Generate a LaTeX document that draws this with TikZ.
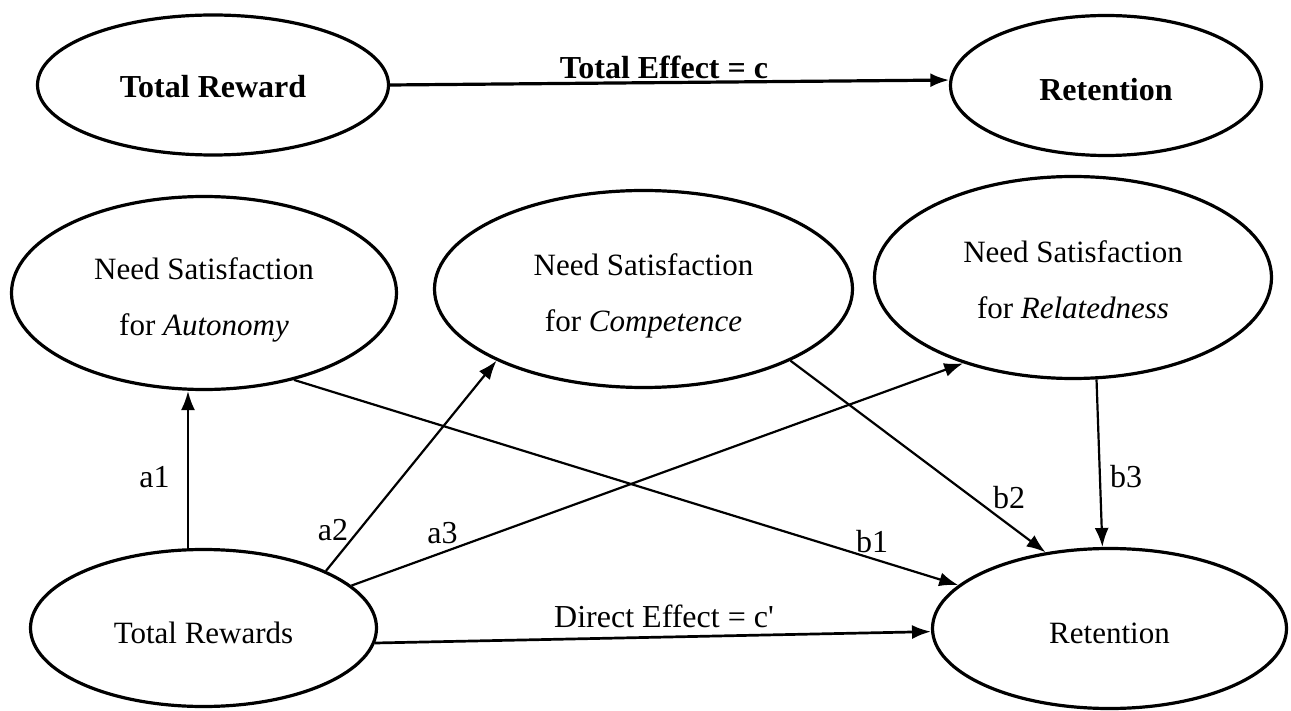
\documentclass[tikz,border=0pt]{standalone}
\usepackage{fontspec}
\setmainfont{Liberation Serif}
\newfontfamily\lblfont{Liberation Serif}[Ligatures=TeXOff]
\usetikzlibrary{shapes.geometric,arrows.meta}
\begin{document}
\begin{tikzpicture}[x=1pt,y=-1pt,
  ell/.style={draw, ellipse, line width=3.2pt, inner sep=0pt, font=\fontsize{31}{56}\selectfont},
  boldell/.style={ell, font=\fontsize{32}{38}\selectfont\bfseries},
  lbl/.style={font=\lblfont\fontsize{32}{36}\selectfont, inner sep=0pt, anchor=base},
  arr/.style={-{Latex[length=19pt,width=14pt]}, line width=2.2pt},
  thickarr/.style={arr, line width=3.2pt},
  midarr/.style={arr, line width=2.7pt}]
\useasboundingbox (0,0) rectangle (1291,711);
\fill[white] (0,0) rectangle (1291,711);

% top model
\node[boldell, minimum width=351pt, minimum height=140pt, text height=26pt, text depth=0pt] (tr) at (213,85) {Total Reward};
\node[boldell, minimum width=311pt, minimum height=140pt, text height=30pt, text depth=0pt] (rt) at (1106,85.5) {Retention};

% mediators
\node[ell, minimum width=385pt, minimum height=193pt] (aut) at (204,293)
  {\raisebox{-3pt}[\height][\depth]{\begin{tabular}{@{}c@{}}Need Satisfaction\\for \textit{Autonomy}\end{tabular}}};
\node[ell, minimum width=418pt, minimum height=197pt] (comp) at (643.5,289)
  {\raisebox{-3pt}[\height][\depth]{\begin{tabular}{@{}c@{}}Need Satisfaction\\for \textit{Competence}\end{tabular}}};
\node[ell, minimum width=397pt, minimum height=202pt] (rel) at (1073,277.5)
  {\raisebox{-1.5pt}[\height][\depth]{\begin{tabular}{@{}c@{}}Need Satisfaction\\for \textit{Relatedness}\end{tabular}}};

% bottom model
\node[ell, minimum width=346pt, minimum height=157pt, text height=30pt, text depth=0pt] (trw) at (203.5,628) {Total Rewards};
\node[ell, minimum width=354pt, minimum height=160pt, text height=29pt, text depth=0pt] (ret) at (1109.5,628.5) {Retention};

% connectors
\draw[thickarr] (tr.0) -- (rt.178);
\draw[arr] (trw.101) -- (trw.101 |- aut.south);
\draw[arr] (trw.25) -- (comp.206.5);
\draw[arr] (trw.16.5) -- (rel.218.8);
\draw[arr] (aut.316.8) -- (ret.164);
\draw[arr] (comp.334) -- (ret.130.6);
\draw[arr] (rel.283.5) -- (ret.95.4);
\draw[midarr] (trw.355.7) -- (ret.181.5);

% labels
\node[lbl, font=\lblfont\fontsize{32}{38}\selectfont\bfseries] (ltot) at (664,79) {Total Effect = c};
\node[lbl] (la1) at (154.5,487) {a1};
\node[lbl] (la2) at (333,540) {a2};
\node[lbl] (la3) at (442.5,543) {a3};
\node[lbl] (lb1) at (872,552) {b1};
\node[lbl] (lb2) at (1009,508) {b2};
\node[lbl] (lb3) at (1126,487) {b3};
\node[lbl] (ldir) at (664,627) {Direct Effect = c'};
\end{tikzpicture}
\end{document}
